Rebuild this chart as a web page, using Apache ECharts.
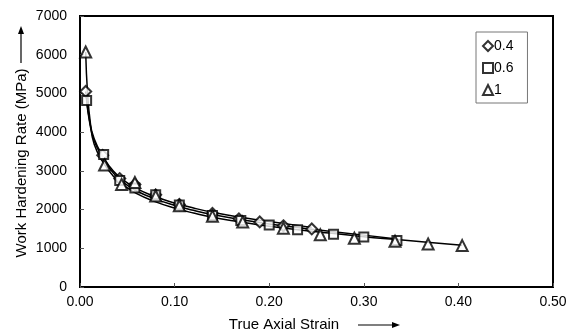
<!DOCTYPE html>
<html>
<head>
<meta charset="UTF-8">
<title>Work hardening rate</title>
<style>
  *{ margin: 0; padding: 0; }
  body{ background: #ffffff; }
  #chart{ width: 579px; height: 333px; }
</style>
</head>
<body>
<div id="chart"></div>
<script src="https://cdn.jsdelivr.net/npm/echarts@6/dist/echarts.min.js"></script>
<script>
  // measured points, strain rate 0.4
  var strain04 = [0.006, 0.024, 0.042, 0.058, 0.080, 0.105, 0.140, 0.168, 0.190, 0.215, 0.245];
  var rate04   = [5050, 3400, 2800, 2650, 2380, 2130, 1900, 1760, 1680, 1580, 1500];
  // measured points, strain rate 0.6
  var strain06 = [0.007, 0.025, 0.042, 0.058, 0.080, 0.105, 0.140, 0.170, 0.200, 0.230, 0.268, 0.300, 0.335];
  var rate06   = [4820, 3420, 2750, 2560, 2380, 2120, 1850, 1720, 1600, 1480, 1360, 1290, 1200];
  // measured points, strain rate 1
  var strain1 = [0.006, 0.026, 0.044, 0.058, 0.080, 0.105, 0.140, 0.172, 0.215, 0.254, 0.290, 0.333, 0.368, 0.404];
  var rate1   = [6070, 3150, 2650, 2700, 2350, 2100, 1830, 1680, 1520, 1350, 1260, 1180, 1110, 1070];

  // fitted curves
  var fitStrain04 = [0.006, 0.010, 0.015, 0.025, 0.035, 0.045, 0.060, 0.080, 0.100, 0.120, 0.140, 0.170, 0.200, 0.245];
  var fitRate04   = [5050, 4320, 3830, 3350, 3000, 2780, 2540, 2330, 2170, 2040, 1930, 1800, 1690, 1540];
  var fitStrain06 = [0.007, 0.010, 0.015, 0.025, 0.035, 0.045, 0.060, 0.080, 0.100, 0.120, 0.140, 0.170, 0.200, 0.250, 0.300, 0.335];
  var fitRate06   = [4820, 4280, 3780, 3300, 2950, 2720, 2480, 2270, 2110, 1980, 1870, 1740, 1630, 1480, 1340, 1240];
  var fitStrain1  = [0.006, 0.008, 0.011, 0.015, 0.025, 0.035, 0.045, 0.060, 0.080, 0.100, 0.120, 0.140, 0.170, 0.200, 0.250, 0.300, 0.335, 0.370, 0.404];
  var fitRate1    = [6070, 5000, 4230, 3690, 3200, 2870, 2650, 2410, 2200, 2040, 1910, 1800, 1680, 1570, 1430, 1300, 1225, 1150, 1080];

  var seriesNames = ['0.4', '0.6', '1'];
  var symbols = ['diamond', 'rect', 'triangle'];

  function pairs(xs, ys) {
    return xs.map(function (x, i) { return [x, ys[i]]; });
  }
  var points = [pairs(strain04, rate04), pairs(strain06, rate06), pairs(strain1, rate1)];
  var fits = [pairs(fitStrain04, fitRate04), pairs(fitStrain06, fitRate06), pairs(fitStrain1, fitRate1)];

  var font = 'Liberation Sans, Arial, sans-serif';
  var myChart = echarts.init(document.getElementById('chart'));

  var series = [];
  seriesNames.forEach(function (n, i) {
    series.push({
      name: n + ' fit',
      type: 'line',
      smooth: true,
      data: fits[i],
      showSymbol: false,
      symbol: 'none',
      silent: true,
      lineStyle: { color: '#000', width: 1.5 },
      z: 2
    });
  });
  seriesNames.forEach(function (n, i) {
    series.push({
      name: n,
      type: 'scatter',
      data: points[i],
      symbol: symbols[i],
      symbolSize: i === 1 ? 9 : 11,
      itemStyle: { color: '#fff', borderColor: '#000', borderWidth: 2 },
      z: 3
    });
  });

  var option = {
    animation: false,
    backgroundColor: '#ffffff',
    grid: {
      left: 80, right: 26, top: 16, bottom: 46,
      show: true, borderColor: '#000', borderWidth: 2
    },
    legend: {
      orient: 'vertical',
      left: 476, top: 32,
      padding: [7, 14, 6, 6],
      itemGap: 8,
      itemWidth: 10, itemHeight: 10,
      borderColor: '#777', borderWidth: 1,
      textStyle: { fontFamily: font, fontSize: 14, color: '#000', padding: [0, 0, 0, -4] },
      data: seriesNames.map(function (n, i) {
        return { name: n, icon: symbols[i], itemStyle: { color: '#fff', borderColor: '#000', borderWidth: 2 } };
      })
    },
    xAxis: {
      type: 'value', min: 0, max: 0.5, interval: 0.1,
      axisLine: { lineStyle: { color: '#000', width: 2 } },
      axisTick: { inside: true, length: 4, lineStyle: { color: '#555', width: 1 } },
      splitLine: { show: false },
      axisLabel: {
        fontFamily: font, fontSize: 14, color: '#000', margin: 8,
        formatter: function (v) { return v.toFixed(2); }
      }
    },
    yAxis: {
      type: 'value', min: 0, max: 7000, interval: 1000,
      axisLine: { show: true, lineStyle: { color: '#000', width: 2 } },
      axisTick: { show: true, inside: true, length: 4, lineStyle: { color: '#555', width: 1 } },
      splitLine: { show: false },
      axisLabel: {
        fontFamily: font, fontSize: 14, color: '#000', margin: 13,
        formatter: function (v) { return String(v); }
      }
    },
    graphic: [
      {
        type: 'text', x: 22, y: 163, rotation: Math.PI / 2,
        style: {
          text: 'Work Hardening Rate (MPa)', fill: '#000',
          font: '15px ' + font, align: 'center', verticalAlign: 'middle'
        }
      },
      { type: 'line', shape: { x1: 21, y1: 63, x2: 21, y2: 32 }, style: { stroke: '#000', lineWidth: 1.2 } },
      { type: 'polygon', shape: { points: [[21, 26], [18, 34], [24, 34]] }, style: { fill: '#000' } },
      {
        type: 'text', x: 284, y: 325,
        style: {
          text: 'True Axial Strain', fill: '#000',
          font: '15px ' + font, align: 'center', verticalAlign: 'middle'
        }
      },
      { type: 'line', shape: { x1: 358, y1: 325, x2: 393, y2: 325 }, style: { stroke: '#000', lineWidth: 1.2 } },
      { type: 'polygon', shape: { points: [[400, 325], [392, 322], [392, 328]] }, style: { fill: '#000' } }
    ],
    series: series
  };

  myChart.setOption(option);
</script>
</body>
</html>
